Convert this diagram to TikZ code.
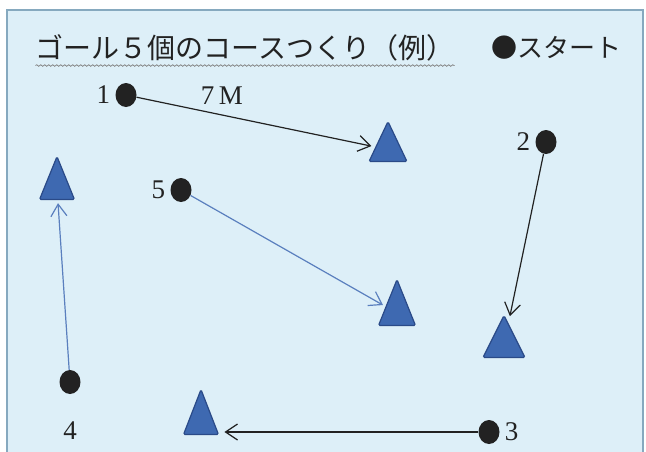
\documentclass[tikz,border=0pt]{standalone}
\usepackage{fontspec}
\setmainfont{Liberation Serif}
\newfontfamily\jpfont{Noto Sans CJK JP}
\usepackage{xcolor}
\usetikzlibrary{arrows.meta,positioning,shapes.geometric,decorations.pathmorphing}

\definecolor{sheet}{HTML}{DDEFF8}
\definecolor{sheetedge}{HTML}{86A9BF}
\definecolor{conefill}{HTML}{3E69B1}
\definecolor{coneedge}{HTML}{2A4A88}
\definecolor{blueline}{HTML}{5A7FBE}
\definecolor{ink}{HTML}{222222}

\begin{document}
\begin{tikzpicture}[x=1pt,y=-1pt,>={Straight Barb[length=12pt,width=16pt]},node distance=3pt,
  dot/.style={ellipse,fill=ink,inner sep=0,minimum width=21pt,minimum height=24pt},
  cone/.style={isosceles triangle,shape border rotate=90,isosceles triangle stretches,
    draw=coneedge,fill=conefill,line width=1.2pt,rounded corners=1.5pt,inner sep=0,
    minimum width=38pt,minimum height=40pt,anchor=apex},
  num/.style={font=\fontsize{27}{32}\selectfont,text=ink,inner sep=0},
  run/.style={->,ink,line width=1.2pt},
  runblue/.style={->,blueline,line width=1.2pt}]
  \useasboundingbox (0,0) rectangle (646,451);
  \fill[white] (0,0) rectangle (646,451);
  \draw[sheetedge,fill=sheet,line width=1.2pt] (7,10) rectangle (643,456);

  % heading
  \node[font=\jpfont\fontsize{28}{32}\selectfont,text=ink,inner sep=0] (title) at (245,48)
    {ゴール５個のコースつくり（例）};
  \draw[gray,line width=0.7pt,decorate,decoration={snake,amplitude=0.8pt,segment length=4pt}]
    (title.south west) ++(0,4) coordinate (ul) -- (ul -| title.south east);
  \node[font=\jpfont\fontsize{26}{30}\selectfont,text=ink,inner sep=0] (legend) at (556,48)
    {●スタート};

  % starts
  \node[dot] (s1) at (126,95) {};
  \node[dot] (s2) at (546,142) {};
  \node[dot] (s3) at (489,432) {};
  \node[dot] (s4) at (70,382) {};
  \node[dot] (s5) at (181,190) {};
  \node[num,left=5pt of s1] (n1) {1};
  \node[num,left=5pt of s2] (n2) {2};
  \node[num,right=5pt of s3] (n3) {3};
  \node[num,below=27pt of s4] (n4) {4};
  \node[num,left=5pt of s5] (n5) {5};
  \node[num] (dist) at (222,96) {7\,M};

  % goals
  \node[cone] (g1) at (388,120) {};
  \node[cone,minimum width=42pt,minimum height=42pt] (g2) at (504,314) {};
  \node[cone,minimum width=37pt,minimum height=46pt] (g3) at (397,278) {};
  \node[cone,minimum width=35pt,minimum height=43pt] (g4) at (57,155) {};
  \node[cone,minimum width=35pt,minimum height=45pt] (g5) at (201,388) {};

  % courses
  \draw[run,shorten >=4pt] (s1) -- (g1);
  \draw[run,shorten >=7pt] (s2) -- (g2);
  \draw[run,shorten >=10pt] (s3) -- (s3 -| g5.east);
  \draw[runblue,shorten >=3pt] (s4) -- (g4);
  \draw[runblue,shorten >=3pt] (s5) -- (g3);
\end{tikzpicture}
\end{document}
